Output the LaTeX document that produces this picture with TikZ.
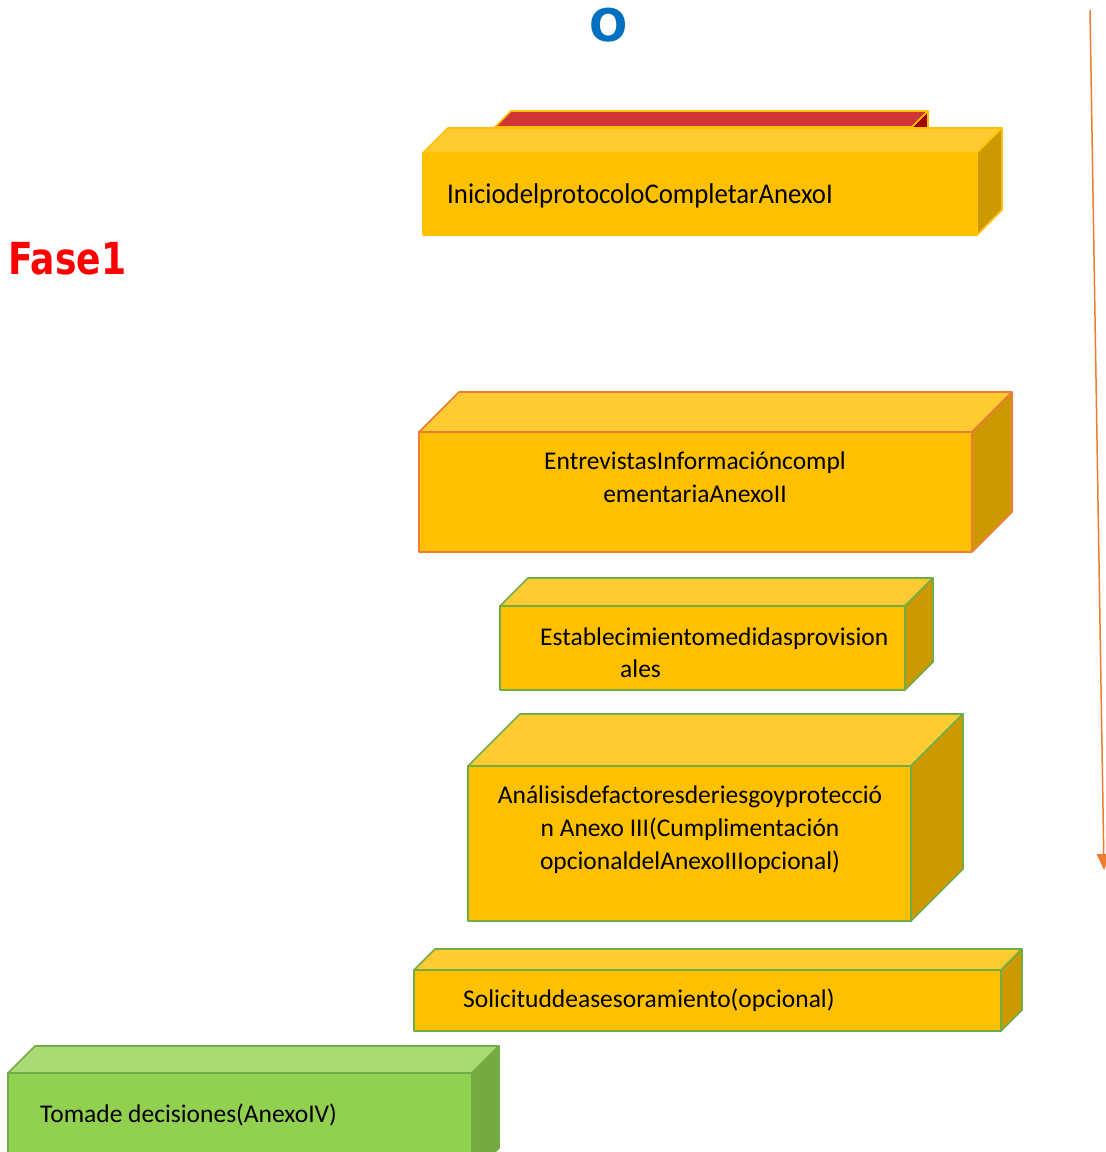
\documentclass[tikz,border=0pt]{standalone}
\usepackage{fontspec}
\usepackage{graphicx}
\setmainfont{Carlito}
\newfontfamily\dvfont{DejaVu Sans}
\usetikzlibrary{arrows.meta}
\definecolor{ofront}{HTML}{FFC000}
\definecolor{otop}{HTML}{FFCB33}
\definecolor{oside}{HTML}{CC9A00}
\definecolor{gfront}{HTML}{92D050}
\definecolor{gtop}{HTML}{A9DA74}
\definecolor{gside}{HTML}{75AA40}
\definecolor{gline}{HTML}{70AD47}
\definecolor{oline}{HTML}{ED7D31}
\definecolor{rtop}{HTML}{D03434}
\definecolor{rside}{HTML}{A00000}
\definecolor{titleblue}{HTML}{0070C0}
% x1,y1,x2,y2,depth,front,top,side,border
\newcommand\cubo[9]{%
  \filldraw[fill=#7,draw=#9,line width=1.6pt,line join=round] (#1,#2) -- (#1+#5,#2-#5) -- (#3+#5,#2-#5) -- (#3,#2) -- cycle;
  \filldraw[fill=#8,draw=#9,line width=1.6pt,line join=round] (#3,#2) -- (#3+#5,#2-#5) -- (#3+#5,#4-#5) -- (#3,#4) -- cycle;
  \filldraw[fill=#6,draw=#9,line width=1.6pt,line join=round] (#1,#2) rectangle (#3,#4);
}
\tikzset{
  boxtext/.style={inner sep=0pt,font=\fontsize{25.5}{33}\selectfont,text=black},
  arrowline/.style={draw=oline,line width=1.5pt,-{Triangle[width=14pt,length=16pt]}}
}
\begin{document}
\begin{tikzpicture}[x=1pt,y=-1pt]
\clip (0,0) rectangle (1106,1152);
\fill[white] (0,0) rectangle (1106,1152);
% title and phase
\node[inner sep=0pt,text=titleblue,font=\dvfont\bfseries\fontsize{45}{45}\selectfont] (titulo) at (609,25) {O};
\node[inner sep=0pt,anchor=base west,text=red,font=\dvfont\bfseries\fontsize{42}{42}\selectfont] (fase) at (8,274) {\scalebox{0.86}[1.05]{Fase1}};
% red box behind
\cubo{495}{127}{912}{160}{16}{rtop}{rtop}{rside}{ofront}
% box 1
\cubo{423}{153}{977}{235}{25}{ofront}{otop}{oside}{ofront}
\node[boxtext,anchor=base west] (b1) at (447,203) {\scalebox{1.05}[1.12]{IniciodelprotocoloCompletarAnexoI}};
% box 2
\cubo{419}{432}{972}{552}{40}{ofront}{otop}{oside}{oline}
\node[boxtext,anchor=base] (b2a) at (695,469) {EntrevistasInformacióncompl};
\node[boxtext,anchor=base] (b2b) at (695,502) {ementariaAnexoII};
% box 3
\cubo{500}{606}{905}{690}{28}{ofront}{otop}{oside}{gline}
\node[boxtext,anchor=base west] (b3a) at (540,645) {Establecimientomedidasprovision};
\node[boxtext,anchor=base west] (b3b) at (620,677) {ales};
% box 4
\cubo{468}{766}{911}{921}{52}{ofront}{otop}{oside}{gline}
\node[boxtext,anchor=base] (b4a) at (690,803) {Análisisdefactoresderiesgoyprotecció};
\node[boxtext,anchor=base] (b4b) at (690,836) {n Anexo III(Cumplimentación};
\node[boxtext,anchor=base] (b4c) at (690,869) {opcionaldelAnexoIIIopcional)};
% box 5
\cubo{414}{970}{1001}{1031}{21}{ofront}{otop}{oside}{gline}
\node[boxtext,anchor=base west] (b5) at (463,1007) {Solicituddeasesoramiento(opcional)};
% box 6
\cubo{8}{1073}{472}{1175}{27}{gfront}{gtop}{gside}{gline}
\node[boxtext,anchor=base west] (b6) at (40,1122) {Tomade decisiones(AnexoIV)};
% arrow
\coordinate (flechaA) at (1090,10);
\coordinate (flechaB) at (1104,870);
\draw[arrowline] (flechaA) -- (flechaB);
\end{tikzpicture}
\end{document}
